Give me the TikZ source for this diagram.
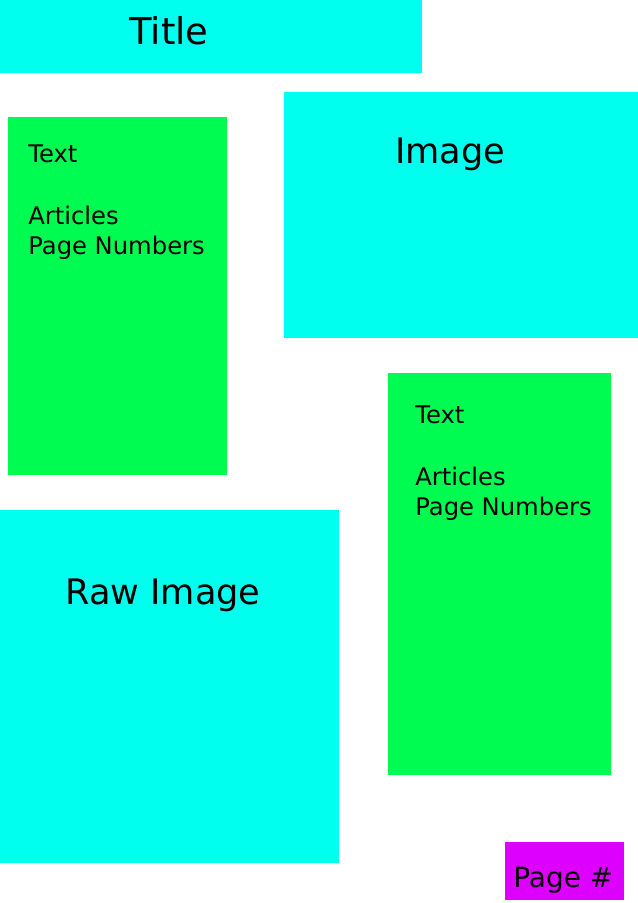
\documentclass[tikz,border=0pt]{standalone}
\usepackage{fontspec}
\setmainfont{DejaVu Sans}
\definecolor{aquafill}{RGB}{0,255,238}
\definecolor{limefill}{RGB}{0,252,80}
\definecolor{magfill}{RGB}{222,0,255}

\begin{document}
\begin{tikzpicture}[x=0.02cm, y=-0.02cm,
    box/.style={anchor=north west, inner sep=0, outer sep=0},
    bigtxt/.style={anchor=base west, inner sep=0, font=\fontsize{20pt}{24pt}\selectfont},
    smalltxt/.style={anchor=base west, inner sep=0, font=\fontsize{13.8pt}{17pt}\selectfont}]
    \useasboundingbox (0,0) rectangle (638,903);
    % blocks of the page
    \node[box, fill=aquafill, minimum width=8.44cm, minimum height=1.46cm] (title) at (0,0) {};
    \node[box, fill=limefill, minimum width=4.38cm, minimum height=7.16cm] (lefttext) at (8,117) {};
    \node[box, fill=aquafill, minimum width=7.08cm, minimum height=4.92cm] (image) at (284,92) {};
    \node[box, fill=limefill, minimum width=4.46cm, minimum height=8.04cm] (righttext) at (388,373) {};
    \node[box, fill=aquafill, minimum width=6.78cm, minimum height=7.06cm] (rawimage) at (0,510) {};
    \node[box, fill=magfill, minimum width=2.38cm, minimum height=1.16cm] (pagenum) at (505,842) {};
    % labels
    \node[bigtxt, font=\fontsize{21pt}{25pt}\selectfont] (titlelbl) at (129,44) {Title};
    \node[bigtxt] (imagelbl) at (395,163) {Image};
    \node[bigtxt] (rawlbl) at (65,604) {Raw Image};
    \node[bigtxt, font=\fontsize{15.9pt}{19pt}\selectfont] (pagelbl) at (513,887) {Page \#};
    \foreach \g/\x/\y in {left/28/162, right/415/423}{
      \node[smalltxt] (\g txt) at (\x,\y) {Text};
      \node[smalltxt] (\g art) at (\x,\y+62) {Articles};
      \node[smalltxt] (\g pgs) at (\x,\y+92) {Page Numbers};
    }
\end{tikzpicture}
\end{document}
